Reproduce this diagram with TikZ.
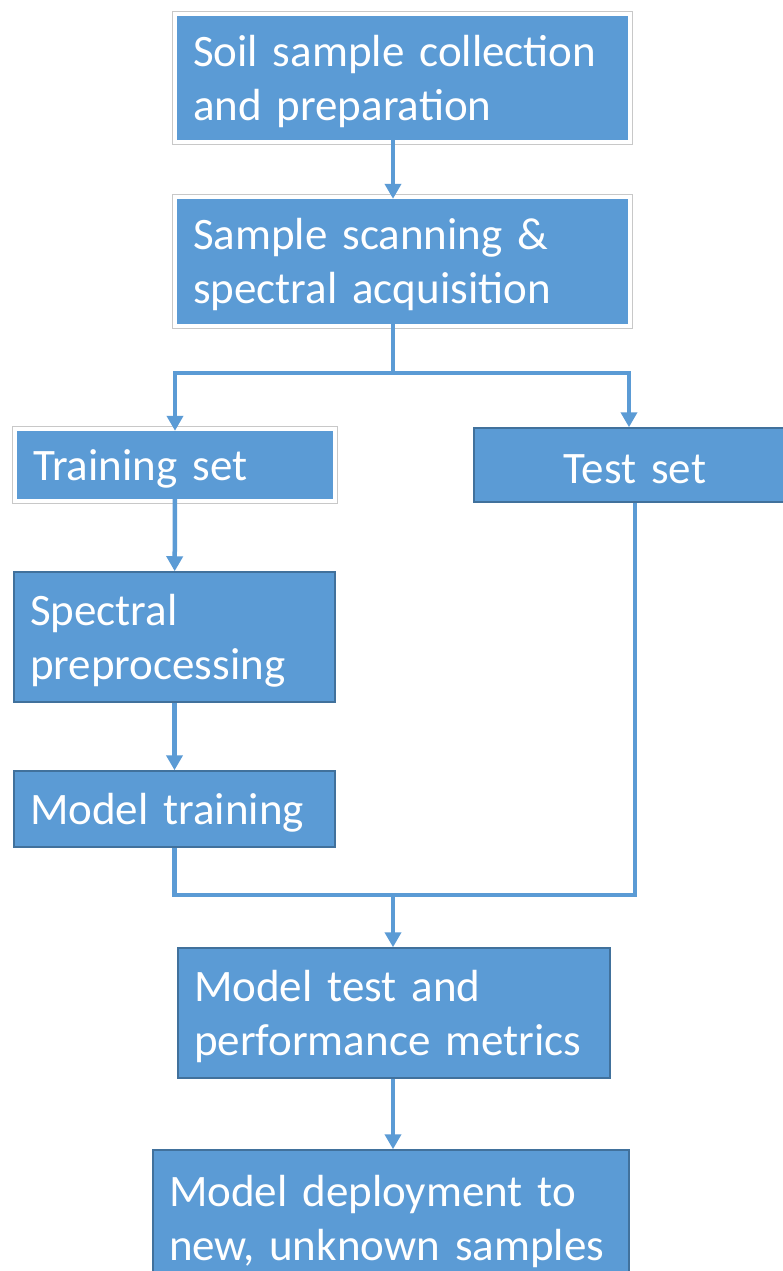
\documentclass[tikz,border=0pt]{standalone}
\usepackage{fontspec}
\setmainfont{Carlito}
\usepackage{xcolor}
\usetikzlibrary{arrows.meta}
\definecolor{officeblue}{RGB}{91,155,213}
\definecolor{edgeblue}{RGB}{65,113,156}
\definecolor{framegrey}{RGB}{200,200,200}

\begin{document}
\begin{tikzpicture}[x=1pt, y=-1pt,
  box/.style={fill=officeblue, text=white, align=left, inner xsep=16pt, inner ysep=0pt,
    font=\fontsize{45}{54}\selectfont, minimum width=#1, text width=#1-32pt,
    execute at begin node={\rule{0pt}{38pt}}},
  box/.default=451pt,
  darkbox/.style={box=#1, draw=edgeblue, line width=1.5pt}, darkbox/.default=321pt,
  frame/.style={draw=framegrey, line width=1.2pt},
  line/.style={draw=officeblue, line width=4.5pt},
  arrow/.style={line, -{Triangle[length=15pt, width=16pt]}}]
  \useasboundingbox (0,0) rectangle (782,1271);
  \fill[white] (0,0) rectangle (782,1271);
  \node[box, minimum height=124pt] (soil) at (402.5,78) {Soil sample collection\\and preparation};
  \node[box, minimum height=125pt] (scan) at (402.5,261.5) {Sample scanning \&\\spectral acquisition};
  \node[box=316pt, minimum height=68pt] (train) at (175,465) {Training set};
  \node[darkbox=322pt, minimum height=74pt, align=center] (test) at (635,465) {Test set};
  \node[darkbox, minimum height=130pt] (spec) at (174.5,637) {Spectral\\preprocessing};
  \node[darkbox, minimum height=76pt] (mtrain) at (174.5,809) {Model training};
  \node[darkbox=432pt, minimum height=130pt] (mtest) at (394,1013) {Model test and\\performance metrics};
  \node[darkbox=476pt, minimum height=136pt] (deploy) at (391,1218) {Model deployment to\\new, unknown samples};
  \foreach \n in {soil, scan, train}
    \draw[frame] ([xshift=-4pt, yshift=4pt]\n.north west) rectangle ([xshift=4pt, yshift=-4pt]\n.south east);
  \coordinate (split) at (393,373);
  \coordinate (join) at (393,895);
  \draw[arrow] (soil.south -| split) -- (scan.north -| split);
  \draw[line] (scan.south -| split) -- (split);
  \draw[arrow] (split) -| (train.north);
  \draw[arrow] (split) -| ([xshift=-6pt]test.north);
  \foreach \a/\b in {train/spec, spec/mtrain} \draw[arrow] (\a) -- (\b);
  \draw[line] (mtrain.south) |- (join) -| (test.south);
  \draw[arrow] (join) -- (mtest.north -| join);
  \draw[arrow] (mtest.south -| join) -- (deploy.north -| join);
\end{tikzpicture}
\end{document}
